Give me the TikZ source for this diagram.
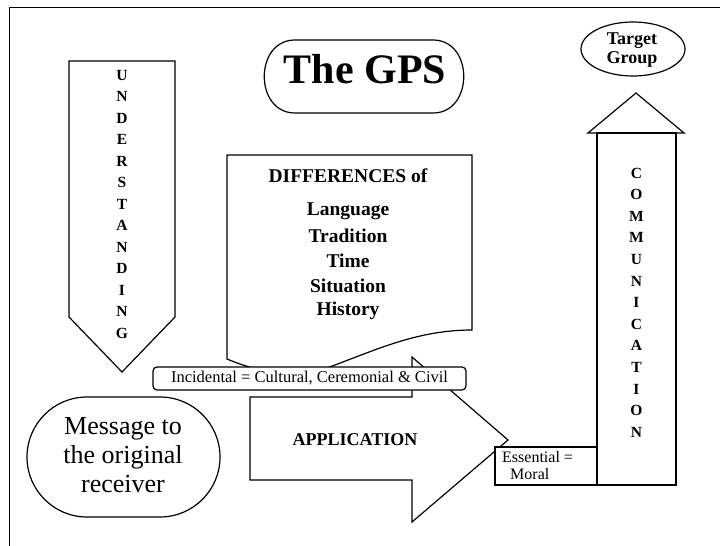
\documentclass[tikz,border=0pt]{standalone}
\usepackage{fontspec}
\setmainfont{Liberation Serif}
\tikzset{
  shp/.style={draw=black, line width=1.2pt, fill=white, line join=miter},
  letter/.style={inner sep=0pt, font=\fontsize{15.5}{16}\selectfont\bfseries},
  difftext/.style={inner sep=0pt, font=\fontsize{19.5}{20}\selectfont\bfseries}
}
\begin{document}
\begin{tikzpicture}[x=1pt,y=-1pt]
\useasboundingbox (0,0) rectangle (720,546);
% page frame
\draw[line width=1pt] (9,546) -- (9,7) -- (720,7);

% title
\draw[shp] (295,40) -- (433,40) .. controls (474,40) and (474,113) .. (433,113)
  -- (295,113) .. controls (254,113) and (254,40) .. (295,40) -- cycle;
\node[inner sep=0pt, font=\fontsize{42}{44}\selectfont\bfseries] (title) at (365,69) {The GPS};

% UNDERSTANDING arrow
\draw[shp] (69,61) -- (175,61) -- (175,317) -- (122,372) -- (69,317) -- cycle;
\foreach \l [count=\i] in {U,N,D,E,R,S,T,A,N,D,I,N,G}
  \node[letter] (u\i) at (122,{75+21.5*(\i-1)}) {\l};

% Message shape
\draw[shp, rounded corners=60] (27,397) rectangle (220,517);
\node[inner sep=0pt, align=center, font=\fontsize{26}{29}\selectfont] (msg) at (123,455) {Message to\\the original\\receiver};

% Differences document
\draw[shp] (227,359) -- (227,155) -- (472,155) -- (472,330)
  .. controls (420,330) and (380,348) .. (335,365)
  .. controls (300,378) and (265,375) .. (227,359) -- cycle;
\node[difftext] (d0) at (348,176) {DIFFERENCES of};
\node[difftext] (d1) at (348,211) {Language};
\node[difftext] (d2) at (348,236) {Tradition};
\node[difftext] (d3) at (348,261) {Time};
\node[difftext] (d4) at (348,286) {Situation};
\node[difftext] (d5) at (348,311) {History};

% APPLICATION arrow
\draw[shp] (250,397) -- (412,397) -- (412,357) -- (508,440) -- (412,522) -- (412,480) -- (250,480) -- cycle;
\node[inner sep=0pt, font=\fontsize{18}{20}\selectfont\bfseries] (app) at (355,440) {APPLICATION};

% Incidental box
\node[shp, rounded corners=4pt, minimum width=313pt, minimum height=23pt, inner sep=0pt,
  font=\fontsize{16.5}{18}\selectfont] (inc) at (309.5,378.5) {Incidental = Cultural, Ceremonial \& Civil};

% Essential box
\draw[shp] (495,447) rectangle (597,485);
\node[inner sep=0pt, align=left, anchor=north west, font=\fontsize{16}{17}\selectfont] (ess) at (502,451) {Essential =\\\hspace*{0.5em}Moral};

% COMMUNICATION arrow
\draw[shp] (588,133) -- (636,93) -- (684,133) -- cycle;
\draw[shp] (597,133) rectangle (676,485);
\foreach \l [count=\i] in {C,O,M,M,U,N,I,C,A,T,I,O,N}
  \node[letter] (c\i) at (636.5,{173+21.6*(\i-1)}) {\l};

% Target group
\draw[shp] (633,49) ellipse [x radius=52, y radius=27];
\node[inner sep=0pt, align=center, font=\fontsize{18}{19}\selectfont\bfseries] (tg) at (632,50) {Target\\Group};
\end{tikzpicture}
\end{document}
